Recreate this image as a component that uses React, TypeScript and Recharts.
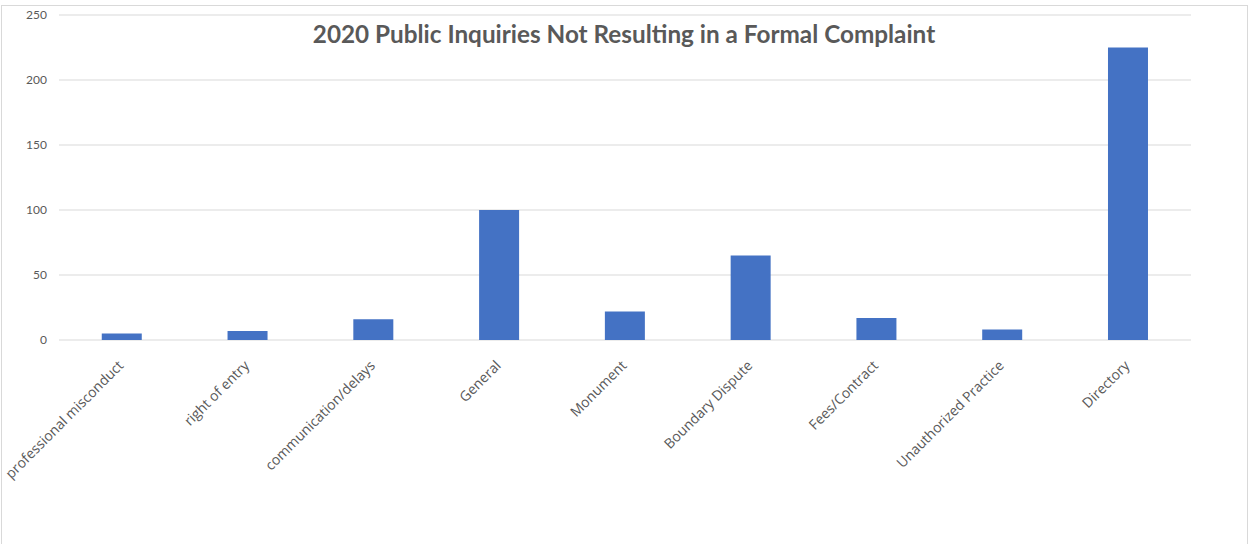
import React from 'react';
import { BarChart, Bar, XAxis, YAxis, CartesianGrid } from 'recharts';

const categories = [
  'professional misconduct',
  'right of entry',
  'communication/delays',
  'General',
  'Monument',
  'Boundary Dispute',
  'Fees/Contract',
  'Unauthorized Practice',
  'Directory',
];
const inquiries = [5, 7, 16, 100, 22, 65, 17, 8, 225];
const yTicks = [0, 50, 100, 150, 200, 250];

const data = categories.map((name, i) => ({ name, value: inquiries[i] }));

const FONT = 'Lato, "Open Sans", sans-serif';
const LABEL_FONT = '"Open Sans", Lato, sans-serif';
const TEXT = '#595959';

const AngledTick = (props: any) => {
  const { x, y, payload } = props;
  const ax = x - 1;
  const ay = y + 15;
  return (
    <text
      x={ax}
      y={ay}
      transform={`rotate(-45, ${ax}, ${ay})`}
      textAnchor="end"
      dy="0.35em"
      fontFamily={LABEL_FONT}
      fontSize={14}
      fill={TEXT}
    >
      {payload.value}
    </text>
  );
};

const App: React.FC = () => {
  return (
    <div style={{ position: 'relative', width: 1249, height: 544, background: '#fff', overflow: 'hidden' }}>
      <style>{'body{margin:0}'}</style>
      <div
        style={{
          position: 'absolute',
          left: 1,
          top: 5,
          width: 1245,
          height: 560,
          border: '1px solid #d9d9d9',
        }}
      />
      <BarChart
        width={1249}
        height={544}
        data={data}
        margin={{ top: 15, right: 58, bottom: 0, left: 0 }}
        barCategoryGap="34%"
        style={{ position: 'absolute', left: 0, top: 0 }}
      >
        <CartesianGrid vertical={false} stroke="#d9d9d9" strokeWidth={1} />
        <XAxis
          dataKey="name"
          interval={0}
          height={204}
          axisLine={false}
          tickLine={false}
          tick={<AngledTick />}
        />
        <YAxis
          width={59}
          domain={[0, 250]}
          ticks={yTicks}
          axisLine={false}
          tickLine={false}
          tickMargin={6}
          tick={{ fontFamily: FONT, fontSize: 12, fill: TEXT }}
        />
        <Bar dataKey="value" fill="#4472C4" isAnimationActive={false} />
        <text
          x={624}
          y={43}
          textAnchor="middle"
          fontFamily={FONT}
          fontWeight="bold"
          fontSize={24.3}
          fill={TEXT}
        >
          2020 Public Inquiries Not Resulting in a Formal Complaint
        </text>
      </BarChart>
    </div>
  );
};

export default App;
